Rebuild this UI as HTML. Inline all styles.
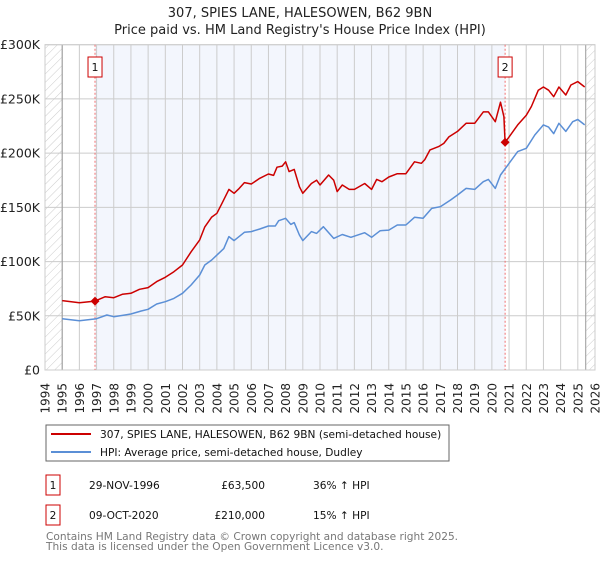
<!DOCTYPE html>
<html><head><meta charset="utf-8"><style>
body{margin:0;background:#fff;font-family:"Liberation Sans","DejaVu Sans",sans-serif;}
svg text{font-family:"DejaVu Sans","Liberation Sans",sans-serif;}
</style></head><body>
<svg id="c" width="600" height="560" xmlns="http://www.w3.org/2000/svg">
<defs><pattern id="hatch" width="6" height="6" patternUnits="userSpaceOnUse" patternTransform="rotate(45)"><line x1="0" y1="0" x2="0" y2="6" stroke="#ccc" stroke-width="1"/></pattern></defs>
<text x="300" y="17" text-anchor="middle" font-size="13" fill="#222">307, SPIES LANE, HALESOWEN, B62 9BN</text>
<text x="300" y="34" text-anchor="middle" font-size="13" fill="#222">Price paid vs. HM Land Registry's House Price Index (HPI)</text>
<g id="plot"></g>
<g>
<rect x="46" y="425" width="403" height="36" fill="#fff" stroke="#666"/>
<line x1="51" y1="434" x2="91" y2="434" stroke="#cc0000" stroke-width="2"/>
<text x="100" y="438" font-size="10.6" fill="#111">307, SPIES LANE, HALESOWEN, B62 9BN (semi-detached house)</text>
<line x1="51" y1="452" x2="91" y2="452" stroke="#5b8fd6" stroke-width="2"/>
<text x="100" y="456" font-size="10.6" fill="#111">HPI: Average price, semi-detached house, Dudley</text>
</g>
<g font-size="10.6" fill="#111">
<rect x="46" y="475" width="14" height="20" fill="#fff" stroke="#cc0000"/>
<text x="53" y="489" text-anchor="middle">1</text>
<text x="89" y="489">29-NOV-1996</text>
<text x="265" y="489" text-anchor="end">£63,500</text>
<text x="313" y="489">36% ↑ HPI</text>
</g>
<g font-size="10.6" fill="#111">
<rect x="46" y="505" width="14" height="20" fill="#fff" stroke="#cc0000"/>
<text x="53" y="519" text-anchor="middle">2</text>
<text x="89" y="519">09-OCT-2020</text>
<text x="265" y="519" text-anchor="end">£210,000</text>
<text x="313" y="519">15% ↑ HPI</text>
</g>
<text x="46" y="540" font-size="10.6" fill="#777">Contains HM Land Registry data © Crown copyright and database right 2025.</text>
<text x="46" y="550" font-size="10.6" fill="#777">This data is licensed under the Open Government Licence v3.0.</text>
</svg>
<script>
const redYears=[1995,1996,1996.91,1997.5,1998,1998.5,1999,1999.5,2000,2000.5,2001,2001.5,2002,2002.5,2003,2003.3,2003.7,2004,2004.3,2004.7,2005,2005.3,2005.6,2006,2006.5,2007,2007.3,2007.5,2007.8,2008,2008.2,2008.5,2008.8,2009,2009.5,2009.8,2010,2010.5,2010.8,2011,2011.3,2011.7,2012,2012.6,2013,2013.3,2013.6,2014,2014.5,2015,2015.5,2015.9,2016.1,2016.4,2016.9,2017.2,2017.5,2018,2018.5,2019,2019.5,2019.8,2020.2,2020.5,2020.7,2020.77,2021,2021.5,2022,2022.3,2022.7,2023,2023.3,2023.6,2023.9,2024.3,2024.6,2025,2025.4];
const redValues=[64,62,63.5,67.6,66.7,69.8,70.7,74.4,76,81.5,85.5,90.7,96.8,109,120,132,141,144.5,153.7,166.6,163,167.5,172.8,171.5,176.8,180.8,179.5,187,188,192,183,185,169,163,172,175,170.6,179.8,175,164.5,170.6,166.6,166.6,172,166.6,175.8,173.7,178,181,181,192,190.6,194,203,206,209,215,220,227.5,227.5,238,238,229,247,233.6,210,215,226,235,243,258,261,258,252,261,253.6,262.8,266,261];
const hpiYears=[1995,1996,1997,1997.6,1998,1999,1999.6,2000,2000.5,2001,2001.5,2002,2002.5,2003,2003.3,2003.7,2004,2004.4,2004.7,2005,2005.6,2006,2006.5,2007,2007.4,2007.6,2008,2008.3,2008.5,2008.8,2009,2009.5,2009.8,2010.2,2010.8,2011.3,2011.8,2012.6,2013,2013.5,2014,2014.5,2015,2015.5,2016,2016.5,2017,2017.6,2018,2018.5,2019,2019.5,2019.8,2020.2,2020.5,2021,2021.5,2022,2022.5,2023,2023.3,2023.6,2023.9,2024.3,2024.7,2025,2025.4];
const hpiValues=[47.3,45.5,47.3,50.7,49.2,51.6,54.4,56,60.9,63,66,70.7,78.4,87.6,96.8,101.4,106,112,123,119.3,127,127.6,130,132.8,132.8,137.7,139.9,134.3,135.9,124.5,119.3,127.6,126,132.2,121.4,125,122.4,126.6,122.4,128.5,129,133.7,133.7,140.8,139.9,149,150.6,156.8,161.4,167.5,166.6,173.7,175.8,167.5,179.8,190.6,201.4,204.5,216.7,226,224,218,227.5,220,229,231,226];
const saleYears=[1996.91,2020.77];
const saleValues=[63.5,210];
const saleLabels=["1","2"];
const yTicks=[0,50,100,150,200,250,300];
const yTickLabels=["£0","£50K","£100K","£150K","£200K","£250K","£300K"];
const xTicks=[1994,1995,1996,1997,1998,1999,2000,2001,2002,2003,2004,2005,2006,2007,2008,2009,2010,2011,2012,2013,2014,2015,2016,2017,2018,2019,2020,2021,2022,2023,2024,2025,2026];

const L=45,R=595,T=44.7,B=370;
const X=y=>L+(y-1994)*(R-L)/32;
const Y=v=>B-v*(B-T)/300;
const NS="http://www.w3.org/2000/svg";
const g=document.getElementById('plot');
function mk(t,a,p){const e=document.createElementNS(NS,t);for(const k in a)e.setAttribute(k,a[k]);(p||g).appendChild(e);return e;}
let e;
e=mk('rect',{x:L,y:T,width:R-L,height:B-T,fill:'#fff'});


e=mk('rect',{x:X(saleYears[0]),y:T,width:X(saleYears[1])-X(saleYears[0]),height:B-T,fill:'#f3f6fd'});


e=mk('rect',{x:L,y:T,width:X(1995)-L,height:B-T,fill:'url(#hatch)'});


e=mk('rect',{x:X(2025.46),y:T,width:R-X(2025.46),height:B-T,fill:'url(#hatch)'});


xTicks.forEach(t=>{
 e=mk('line',{x1:X(t),x2:X(t),y1:T,y2:B,stroke:'#ccc','stroke-width':1});
 
 
 const tx=mk('text',{x:0,y:0,'font-size':12,fill:'#222','text-anchor':'end',transform:`translate(${X(t)+4.5},383) rotate(-90)`});
 tx.textContent=t;
 
 
});
yTicks.forEach((t,i)=>{
 e=mk('line',{x1:L,x2:R,y1:Y(t),y2:Y(t),stroke:'#ccc','stroke-width':1});
 
 
 const tx=mk('text',{x:40,y:Y(t)+4.5,'font-size':12.5,fill:'#222','text-anchor':'end'});
 tx.textContent=yTickLabels[i];
 
 
});
e=mk('line',{x1:X(1995),x2:X(1995),y1:T,y2:B,stroke:'#999'});


e=mk('line',{x1:X(2025.46),x2:X(2025.46),y1:T,y2:B,stroke:'#999'});


e=mk('rect',{x:L,y:T,width:R-L,height:B-T,fill:'none',stroke:'#ccc'});


saleYears.forEach((s,i)=>{
 e=mk('line',{x1:X(s),x2:X(s),y1:T,y2:B,stroke:'#f07070','stroke-dasharray':'2,2'});
 
 
 const bx=mk('rect',{x:X(s)-7,y:57,width:14,height:20,fill:'#fff',stroke:'#cc0000'});
 
 
 const tx=mk('text',{x:X(s),y:71,'font-size':11,fill:'#111','text-anchor':'middle'});
 tx.textContent=saleLabels[i];
 
 
});
const path=(xs,vs)=>xs.map((x,i)=>(i?'L':'M')+X(x).toFixed(1)+','+Y(vs[i]).toFixed(1)).join(' ');
e=mk('path',{d:path(hpiYears,hpiValues),fill:'none',stroke:'#5b8fd6','stroke-width':1.5,'stroke-linejoin':'round'});


e=mk('path',{d:path(redYears,redValues),fill:'none',stroke:'#cc0000','stroke-width':1.5,'stroke-linejoin':'round'});


saleYears.forEach((s,i)=>{
 const cx=X(s),cy=Y(saleValues[i]);
 const d=mk('path',{d:`M${cx},${cy-4.5} L${cx+4.5},${cy} L${cx},${cy+4.5} L${cx-4.5},${cy} Z`,fill:'#cc0000'});
 
 
});
</script>
</body></html>
